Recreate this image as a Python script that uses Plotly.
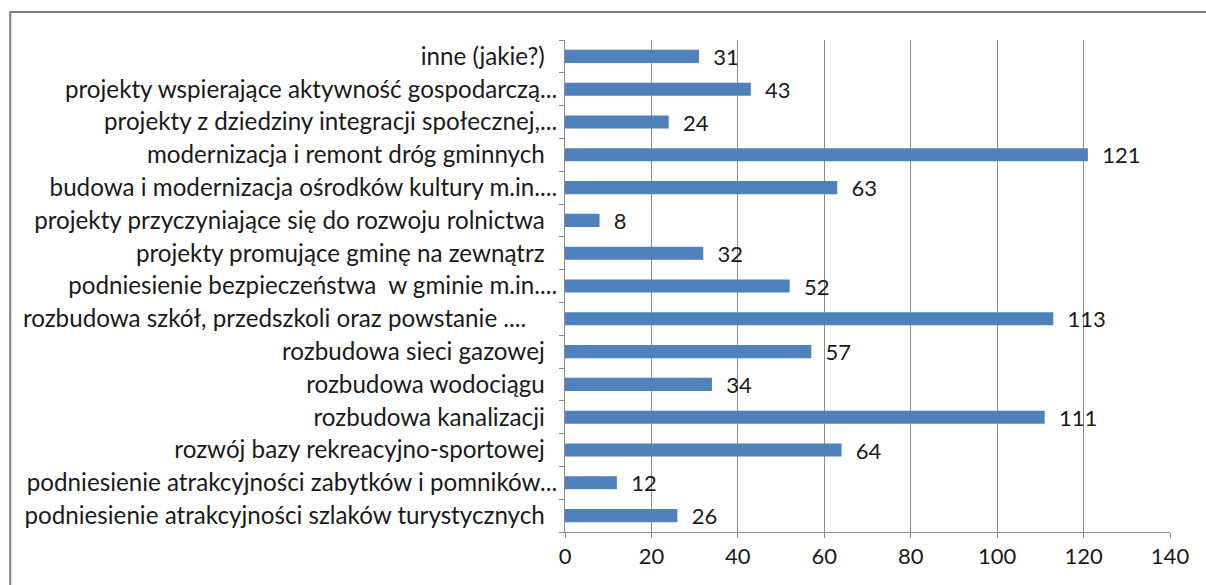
import plotly.graph_objects as go

# Survey answers: which investment projects should the commune prioritise
categories = [
    "podniesienie atrakcyjności szlaków turystycznych\u00a0\u00a0",
    "podniesienie atrakcyjności zabytków i pomników...",
    "rozwój bazy rekreacyjno-sportowej\u00a0\u00a0",
    "rozbudowa kanalizacji\u00a0\u00a0",
    "rozbudowa wodociągu\u00a0\u00a0",
    "rozbudowa sieci gazowej\u00a0\u00a0",
    "rozbudowa szkół, przedszkoli oraz powstanie ....\u00a0\u00a0\u00a0\u00a0\u00a0",
    "podniesienie bezpieczeństwa  w gminie m.in....",
    "projekty promujące gminę na zewnątrz\u00a0\u00a0",
    "projekty przyczyniające się do rozwoju rolnictwa\u00a0\u00a0",
    "budowa i modernizacja ośrodków kultury m.in....",
    "modernizacja i remont dróg gminnych\u00a0\u00a0",
    "projekty z dziedziny integracji społecznej,...",
    "projekty wspierające aktywność gospodarczą...",
    "inne (jakie?)\u00a0\u00a0",
]
counts = [26, 12, 64, 111, 34, 57, 113, 52, 32, 8, 63, 121, 24, 43, 31]
x_ticks = [0, 20, 40, 60, 80, 100, 120, 140]

FONT = "Lato"
BAR = "#4F81BD"
GRID = "#8C8C8C"
TEXT = "#1a1a1a"

fig = go.Figure(
    go.Bar(
        x=counts,
        y=categories,
        orientation="h",
        marker=dict(color=BAR, line=dict(width=0)),
        width=0.4,
        text=["\u00a0\u00a0" + str(v) for v in counts],
        textposition="outside",
        constraintext="none",
        textfont=dict(family=FONT, size=22, color=TEXT),
        cliponaxis=False,
    )
)

fig.update_layout(
    width=1206,
    height=585,
    margin=dict(l=565, r=36, t=40, b=53),
    paper_bgcolor="white",
    plot_bgcolor="white",
    showlegend=False,
    font=dict(family=FONT, size=22, color=TEXT),
    xaxis=dict(
        range=[0, 140],
        tickvals=x_ticks,
        showgrid=True,
        gridcolor=GRID,
        gridwidth=1,
        zeroline=False,
        showline=True,
        linecolor=GRID,
        ticks="outside",
        ticklen=5,
        tickcolor=GRID,
        tickfont=dict(family=FONT, size=22, color=TEXT),
    ),
    yaxis=dict(
        type="category",
        categoryorder="array",
        categoryarray=categories,
        showgrid=False,
        showline=True,
        linecolor=GRID,
        ticks="outside",
        tickson="boundaries",
        ticklen=5,
        tickcolor=GRID,
        tickfont=dict(family=FONT, size=24.2, color=TEXT),
        ticklabelstandoff=2,
    ),
    shapes=[
        dict(
            type="rect",
            xref="paper",
            yref="paper",
            x0=-0.917,
            x1=1.2,
            y0=-0.3,
            y1=1.057,
            line=dict(color="#7F7F7F", width=2),
            fillcolor="rgba(0,0,0,0)",
            layer="below",
        )
    ],
)

fig.write_html("out.html")
